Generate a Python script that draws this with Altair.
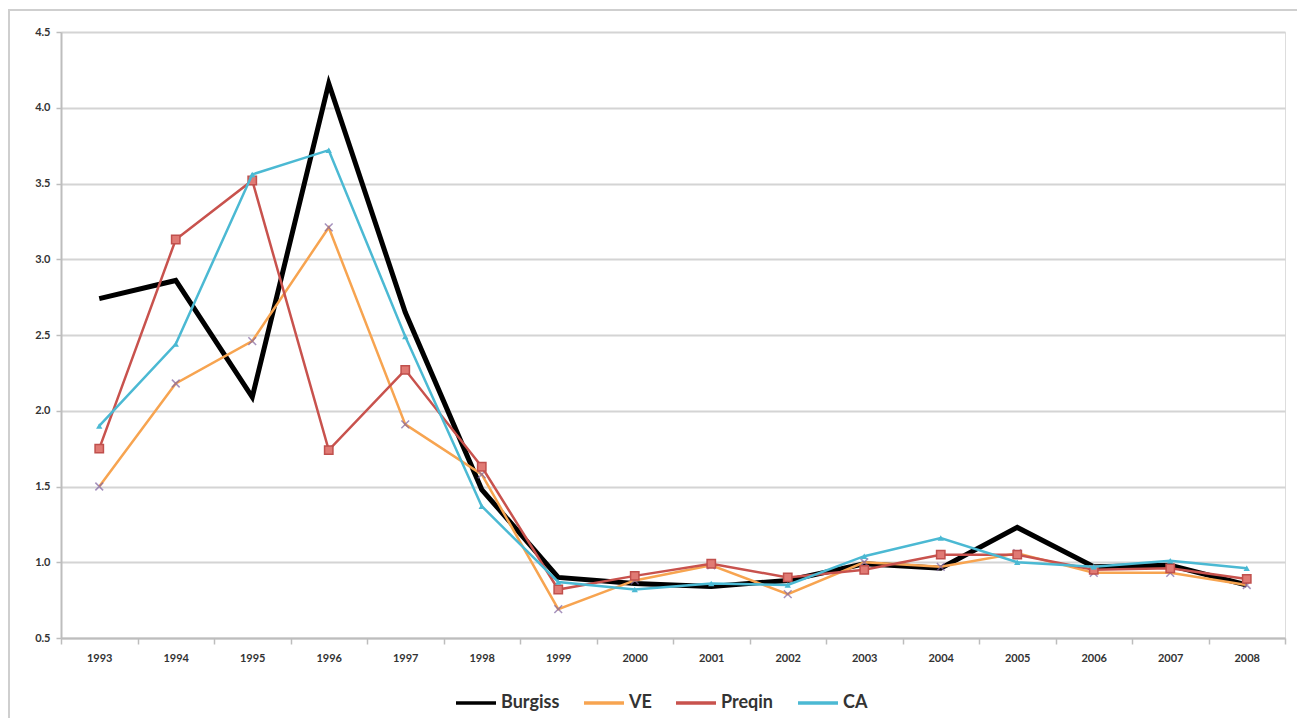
import altair as alt
import pandas as pd

years = [str(y) for y in range(1993, 2009)]
series_names = ["Burgiss", "VE", "Preqin", "CA"]
burgiss = [2.74, 2.86, 2.09, 4.16, 2.65, 1.48, 0.90, 0.86, 0.84, 0.88, 0.99, 0.96, 1.23, 0.97, 0.98, 0.85]
ve      = [1.50, 2.18, 2.46, 3.21, 1.91, 1.58, 0.69, 0.88, 0.98, 0.79, 1.00, 0.97, 1.06, 0.93, 0.93, 0.85]
preqin  = [1.75, 3.13, 3.52, 1.74, 2.27, 1.63, 0.82, 0.91, 0.99, 0.90, 0.95, 1.05, 1.05, 0.95, 0.96, 0.89]
ca      = [1.90, 2.44, 3.56, 3.72, 2.49, 1.37, 0.87, 0.82, 0.86, 0.85, 1.04, 1.16, 1.00, 0.97, 1.01, 0.96]
colors = ["#000000", "#F7A450", "#C8524D", "#4BB9D3"]

rows = []
for name, vals in zip(series_names, [burgiss, ve, preqin, ca]):
    for y, v in zip(years, vals):
        rows.append({"year": y, "series": name, "value": v})
df = pd.DataFrame(rows)

x_enc = alt.X("year:N", sort=years, title=None,
              axis=alt.Axis(labelAngle=0, tickBand="extent", labelFontSize=11,
                            labelFontWeight="bold", labelColor="#333333",
                            domainColor="#bdbdbd", domainWidth=2, tickColor="#bdbdbd",
                            tickWidth=1.5, tickSize=6, labelPadding=8, grid=False),
              scale=alt.Scale(paddingInner=0, paddingOuter=0))
y_enc = alt.Y("value:Q", title=None,
              scale=alt.Scale(domain=[0.5, 4.5], nice=False, zero=False),
              axis=alt.Axis(values=[0.5, 1.0, 1.5, 2.0, 2.5, 3.0, 3.5, 4.0, 4.5], format=".1f",
                            labelFontSize=11, labelFontWeight="bold", labelColor="#333333",
                            domainColor="#bdbdbd", domainWidth=2, tickColor="#bdbdbd",
                            tickSize=5, tickWidth=1.5, gridColor="#d4d4d4", gridWidth=2,
                            labelPadding=6))
color_enc = alt.Color("series:N", scale=alt.Scale(domain=series_names, range=colors),
                      sort=series_names,
                      legend=alt.Legend(title=None, orient="none", legendX=393, legendY=649,
                                        direction="horizontal",
                                        symbolType="stroke", symbolSize=1600, symbolStrokeWidth=3.5,
                                        labelFontSize=18, labelFontWeight="bold",
                                        labelColor="#333333", columnPadding=17,
                                        labelOffset=3))

base = alt.Chart(df)

frame = alt.Chart(pd.DataFrame({"a": [0]})).mark_rect(
    filled=False, stroke="#cfcfcf", strokeWidth=2
).encode(x=alt.value(-52), x2=alt.value(1240), y=alt.value(-22), y2=alt.value(720))

burg_line = base.transform_filter(alt.datum.series == "Burgiss").mark_line(
    strokeWidth=5, strokeJoin="miter").encode(x=x_enc, y=y_enc, color=color_enc)

def other_line(name):
    return base.transform_filter(alt.datum.series == name).mark_line(
        strokeWidth=2.5).encode(x=x_enc, y=y_enc, color=color_enc)

ve_pts = base.transform_filter(alt.datum.series == "VE").mark_point(
    shape="M-1,-1L1,1M-1,1L1,-1", size=60, stroke="#8064A2", strokeWidth=1.5, filled=False
).encode(x=x_enc, y=y_enc)
pq_pts = base.transform_filter(alt.datum.series == "Preqin").mark_point(
    shape="square", size=70, fill="#E07A74", stroke="#C0504D", strokeWidth=1.5, filled=True, opacity=1
).encode(x=x_enc, y=y_enc)
ca_pts = base.transform_filter(alt.datum.series == "CA").mark_point(
    shape="triangle-up", size=40, fill="#4BB9D3", filled=True, opacity=1
).encode(x=x_enc, y=y_enc)

chart = alt.layer(
    frame, burg_line, other_line("VE"), ve_pts, other_line("Preqin"), pq_pts,
    other_line("CA"), ca_pts
).properties(
    width=1224, height=606,
    padding={"left": 53, "top": 24, "right": 12, "bottom": 80},
    autosize=alt.AutoSizeParams(type="none"),
).configure_view(stroke=None).configure(font="Lato", background="white")

chart.save("out.html", embed_options={"renderer": "svg", "actions": False})
